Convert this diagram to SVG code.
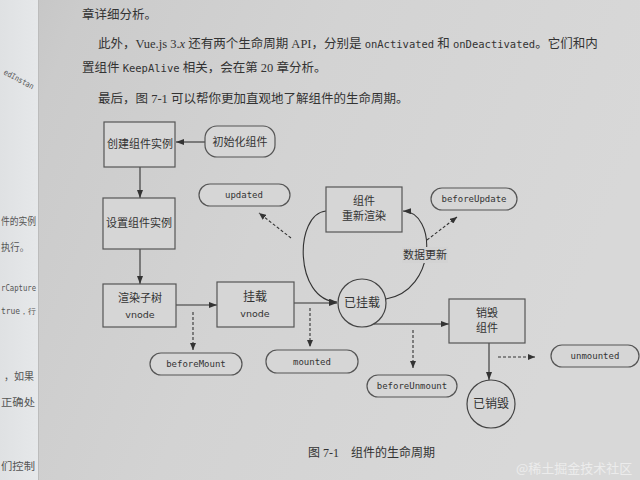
<svg xmlns="http://www.w3.org/2000/svg" width="640" height="480" viewBox="0 0 640 480">
<defs>
<linearGradient id="pg" x1="0" y1="0" x2="1" y2="0.3">
<stop offset="0" stop-color="#c4c4c4"/>
<stop offset="0.12" stop-color="#cbcbcb"/>
<stop offset="0.5" stop-color="#d3d3d3"/>
<stop offset="1" stop-color="#d8d8d8"/>
</linearGradient>
<linearGradient id="lp" x1="0" y1="0" x2="1" y2="0">
<stop offset="0" stop-color="#dfe1e3"/>
<stop offset="1" stop-color="#e6e8ea"/>
</linearGradient>
<marker id="ah" markerWidth="8" markerHeight="6" refX="8" refY="3" orient="auto" markerUnits="userSpaceOnUse">
<path d="M0,0 L8,3 L0,6 z" fill="#333"/>
</marker>
<marker id="ahd" markerWidth="7" markerHeight="6" refX="7" refY="3" orient="auto" markerUnits="userSpaceOnUse">
<path d="M0,0 L7,3 L0,6 z" fill="#333"/>
</marker>
</defs>
<style>
.box{fill:#d6d6d6;stroke:#555;stroke-width:1.2}
.pill{fill:#d6d6d6;stroke:#555;stroke-width:1.2}
.cir{fill:#d6d6d6;stroke:#444;stroke-width:1.2}
.cj{font-family:"Noto Sans CJK SC",sans-serif;font-size:11px;fill:#333;text-anchor:middle}
.cjb{font-family:"Noto Sans CJK SC",sans-serif;font-size:12px;fill:#333;text-anchor:middle}
.en{font-family:"DejaVu Sans",sans-serif;font-size:9.5px;fill:#333;text-anchor:middle}
.mono{font-family:"DejaVu Sans Mono",monospace;font-size:9px;fill:#333;text-anchor:middle}
.body{font-family:"Liberation Serif","Noto Sans CJK SC",serif;font-size:12.5px;fill:#333}
.bm{font-family:"DejaVu Sans Mono",monospace;font-size:10.5px}
.ln{fill:none;stroke:#333;stroke-width:1.1}
.dl{fill:none;stroke:#333;stroke-width:1.1;stroke-dasharray:3,2}
.lf{font-family:"Noto Sans CJK SC",sans-serif;font-size:10px;fill:#555}
.lm{font-family:"DejaVu Sans Mono",monospace;font-size:8px;fill:#555}
</style>
<rect x="0" y="0" width="640" height="480" fill="url(#pg)"/>
<rect x="0" y="0" width="38" height="480" fill="url(#lp)"/>
<line x1="38.5" y1="0" x2="38.5" y2="480" stroke="#bcbcbc" stroke-width="1"/>
<g id="left-page">
<text class="lm" x="3" y="74" transform="rotate(28 3 74)" textLength="33" lengthAdjust="spacingAndGlyphs">edInstan</text>
<text class="lf" x="1" y="225" textLength="35" lengthAdjust="spacingAndGlyphs">件的实例</text>
<text class="lf" x="1" y="251" textLength="28" lengthAdjust="spacingAndGlyphs">执行。</text>
<text class="lm" x="1" y="291" textLength="35" lengthAdjust="spacingAndGlyphs">rCapture</text>
<text class="lm" x="1" y="314" textLength="35" lengthAdjust="spacingAndGlyphs">true，行</text>
<text class="lf" x="4" y="380" textLength="30" lengthAdjust="spacingAndGlyphs">，如果</text>
<text class="lf" x="1" y="406" textLength="34" lengthAdjust="spacingAndGlyphs">正确处</text>
<text class="lf" x="1" y="470" textLength="34" lengthAdjust="spacingAndGlyphs">们控制</text>
</g>
<text class="body" x="82" y="19">章详细分析。</text>
<text class="body" x="98" y="48">此外，Vue.js 3.<tspan font-style="italic">x</tspan> 还有两个生命周期 API，分别是 <tspan class="bm">onActivated</tspan> 和 <tspan class="bm">onDeactivated</tspan>。它们和内</text>
<text class="body" x="82" y="72">置组件 <tspan class="bm">KeepAlive</tspan> 相关，会在第 20 章分析。</text>
<text class="body" x="98" y="103">最后，图 7-1 可以帮你更加直观地了解组件的生命周期。</text>

<g id="connectors">
<line class="ln" x1="205" y1="142" x2="176" y2="142" marker-end="url(#ah)"/>
<line class="ln" x1="140" y1="167" x2="140" y2="198" marker-end="url(#ah)"/>
<line class="ln" x1="140" y1="249" x2="140" y2="284" marker-end="url(#ah)"/>
<line class="ln" x1="176" y1="305" x2="217" y2="305" marker-end="url(#ah)"/>
<line class="ln" x1="294" y1="303" x2="337" y2="303" marker-end="url(#ah)"/>
<path class="ln" d="M326,211 C294,214 294,300 337,302" marker-end="url(#ah)"/>
<path class="ln" d="M386,299 C437,290 437,212 403,211" marker-end="url(#ah)"/>
<line class="ln" x1="374" y1="324" x2="449" y2="324" marker-end="url(#ah)"/>
<line class="ln" x1="489" y1="343" x2="489" y2="380" marker-end="url(#ah)"/>
<line class="dl" x1="291" y1="238" x2="259" y2="213" marker-end="url(#ahd)"/>
<line class="dl" x1="427" y1="240" x2="457" y2="217" marker-end="url(#ahd)"/>
<line class="dl" x1="193" y1="312" x2="193" y2="350" marker-end="url(#ahd)"/>
<line class="dl" x1="310" y1="308" x2="310" y2="347" marker-end="url(#ahd)"/>
<line class="dl" x1="413" y1="330" x2="413" y2="368" marker-end="url(#ahd)"/>
<line class="dl" x1="498" y1="357" x2="535" y2="357" marker-end="url(#ahd)"/>
<rect x="402" y="247" width="46" height="16" fill="#d3d3d3"/>
<text class="cj" x="425" y="259">数据更新</text>
</g>

<g id="n-create"><rect class="box" x="104" y="122" width="71" height="45"/><text class="cj" x="140" y="148">创建组件实例</text></g>
<g id="n-init"><rect class="pill" x="205" y="126" width="70" height="31" rx="12"/><text class="cj" x="240" y="146">初始化组件</text></g>
<g id="n-setup"><rect class="box" x="103" y="198" width="72" height="51"/><text class="cj" x="139" y="227">设置组件实例</text></g>
<g id="n-render"><rect class="box" x="103" y="284" width="73" height="43"/><text class="cj" x="140" y="302">渲染子树</text><text class="en" x="140" y="318">vnode</text></g>
<g id="n-mount"><rect class="box" x="217" y="282" width="77" height="45"/><text class="cjb" x="255" y="301">挂载</text><text class="en" x="255" y="317">vnode</text></g>
<g id="n-mounted"><circle class="cir" cx="362" cy="303" r="24"/><text class="cjb" x="362" y="307">已挂载</text></g>
<g id="n-rerender"><rect class="box" x="326" y="187" width="76" height="45"/><text class="cj" x="364" y="205">组件</text><text class="cj" x="364" y="220">重新渲染</text></g>
<g id="n-updated"><rect class="pill" x="199" y="184" width="91" height="22" rx="11"/><text class="mono" x="244" y="198">updated</text></g>
<g id="n-beforeUpdate"><rect class="pill" x="431" y="188" width="86" height="22" rx="11"/><text class="mono" x="474" y="202">beforeUpdate</text></g>
<g id="n-beforeMount"><rect class="pill" x="150" y="353" width="92" height="22" rx="11"/><text class="mono" x="196" y="367">beforeMount</text></g>
<g id="n-mountedHook"><rect class="pill" x="266" y="350" width="92" height="23" rx="11"/><text class="mono" x="312" y="365">mounted</text></g>
<g id="n-unmount"><rect class="box" x="449" y="299" width="76" height="44"/><text class="cj" x="487" y="317">销毁</text><text class="cj" x="487" y="332">组件</text></g>
<g id="n-unmounted"><circle class="cir" cx="491" cy="404" r="24"/><text class="cjb" x="491" y="408">已销毁</text></g>
<g id="n-beforeUnmount"><rect class="pill" x="367" y="375" width="90" height="22" rx="11"/><text class="mono" x="412" y="389">beforeUnmount</text></g>
<g id="n-unmountedHook"><rect class="pill" x="551" y="345" width="88" height="22" rx="11"/><text class="mono" x="595" y="359">unmounted</text></g>

<text class="body" x="308" y="457" style="font-size:12px">图 7-1　组件的生命周期</text>
<text x="516" y="473" style="font-family:'Noto Sans CJK SC',sans-serif;font-size:13px;fill:#ececec">@稀土掘金技术社区</text>
</svg>
